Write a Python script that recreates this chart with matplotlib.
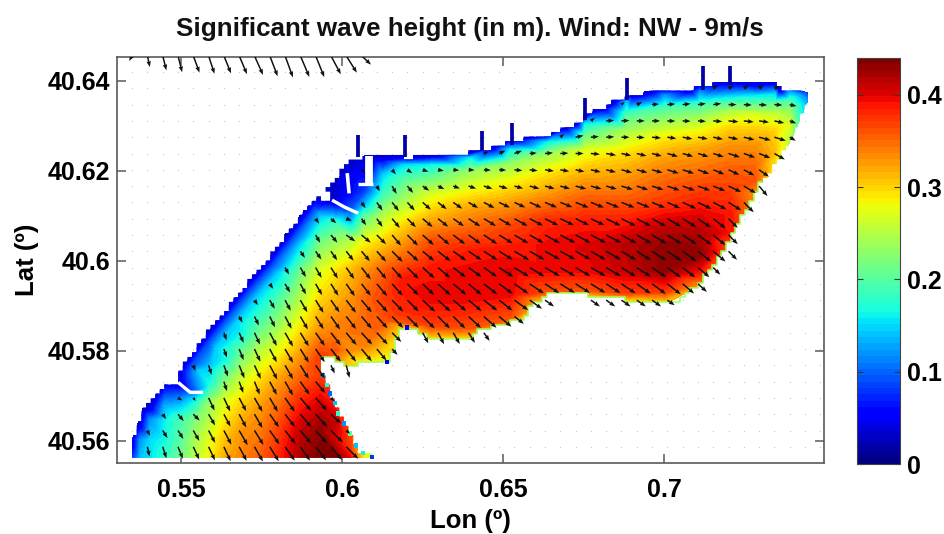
import numpy as np
import matplotlib
matplotlib.use('Agg')
import matplotlib.pyplot as plt
from matplotlib.patches import Polygon
from matplotlib.tri import Triangulation

plt.rcParams['font.family'] = ['Liberation Sans', 'DejaVu Sans']
plt.rcParams['font.weight'] = 'bold'

TITLE = 'Significant wave height (in m). Wind: NW - 9m/s'
x_ticks = [0.55, 0.6, 0.65, 0.7]
x_labels = ['0.55', '0.6', '0.65', '0.7']
y_ticks = [40.56, 40.58, 40.6, 40.62, 40.64]
y_labels = ['40.56', '40.58', '40.6', '40.62', '40.64']
cb_ticks = [0, 0.1, 0.2, 0.3, 0.4]
cb_labels = ['0', '0.1', '0.2', '0.3', '0.4']

# wet-area outline
coast_lon = [.5348,.5348,.5363,.5382,.5419,.5457,.5491,.5491,.5522,.5575,.5630,.5699,.5767,.5839,.5901,.5922,.5963,.5953,.5984,.6003,.6016,.6050,.6096,.6211,.6289,.6398,.6466,.6537,.6640,.6693,.6730,.6755,.6786,.6811,.6842,.6904,.6963,.7081,.7106,.7165,.7236,.7292,.7354,.7360,.7438,.7447,.7447,.7432,.7416,.7391,.7351,.7307,.7276,.7236,.7196,.7112,.7050,.6957,.6801,.6708,.6630,.6553,.6429,.6398,.6295,.6258,.6202,.6180,.6158,.6140,.6109,.6025,.5984,.5941,.5941,.5963,.5994,.6034,.6056,.6109,.6109]
coast_lat = [40.5559,40.5597,40.5630,40.5673,40.5701,40.5730,40.5730,40.5753,40.5784,40.5835,40.5886,40.5946,40.6002,40.6068,40.6128,40.6141,40.6135,40.6168,40.6188,40.6208,40.6224,40.6230,40.6232,40.6230,40.6235,40.6241,40.6252,40.6270,40.6277,40.6297,40.6306,40.6323,40.6335,40.6341,40.6353,40.6368,40.6379,40.6379,40.6388,40.6397,40.6397,40.6397,40.6397,40.6379,40.6379,40.6368,40.6353,40.6335,40.6301,40.6261,40.6217,40.6179,40.6135,40.6090,40.6030,40.5950,40.5913,40.5908,40.5921,40.5932,40.5924,40.5868,40.5846,40.5828,40.5826,40.5835,40.5852,40.5850,40.5801,40.5775,40.5779,40.5768,40.5779,40.5790,40.5750,40.5706,40.5653,40.5602,40.5573,40.5564,40.5559]
north_shore_end = 44      # outline points before this index are the north shore
south_fringe_start = 51   # outline points from here to fringe_end are the south-east shore
south_fringe_end = 74
shore_hs = .03
fringe_hs = .24
cell_dlon = .00143        # model cell size
cell_dlat = .00102

# bands parallel to the north-west shore
band1_lon = [.5537,.5590,.5646,.5714,.5783,.5854,.5916]
band1_lat = [40.5770,40.5821,40.5872,40.5932,40.5988,40.6054,40.6114]
band1_hs = [.09]*7
band2_lon = [.5556,.5609,.5665,.5733,.5801,.5873,.5935]
band2_lat = [40.5755,40.5806,40.5857,40.5917,40.5972,40.6039,40.6099]
band2_hs = [.145]*7

# wave height read along north-south sections
sec_lon = [.5348,.5373,.5404,.5450,.5497,.5543,.5590,.5637,.5693,.5745,.5807,.5870,.5932,.5978,.6025,.6071,.6109,.6130,.6192,.6273,.6398,.6522,.6640,.6755,.6885,.7003,.7112,.7205,.7283,.7345,.7391,.7422,.7447]
sec_lat = [
 [40.5559,40.5602],
 [40.5559,40.5602,40.5635],
 [40.5559,40.5602,40.5646,40.5673],
 [40.5559,40.5602,40.5646,40.5679,40.5724],
 [40.5559,40.5602,40.5646,40.5679,40.5701],
 [40.5559,40.5602,40.5646,40.5690,40.5713],
 [40.5559,40.5602,40.5646,40.5690,40.5724,40.5768],
 [40.5559,40.5602,40.5646,40.5690,40.5735,40.5779],
 [40.5559,40.5624,40.5690,40.5746,40.5801,40.5839],
 [40.5559,40.5624,40.5690,40.5746,40.5801,40.5857],
 [40.5559,40.5624,40.5690,40.5746,40.5801,40.5868,40.5913],
 [40.5559,40.5624,40.5690,40.5746,40.5801,40.5868,40.5913,40.5979],
 [40.5559,40.5624,40.5690,40.5746,40.5790,40.5846,40.5913,40.5979,40.6046],
 [40.5559,40.5646,40.5679,40.5801,40.5846,40.5913,40.5979,40.6046,40.6086],
 [40.5559,40.5590,40.5779,40.5801,40.5846,40.5913,40.5979,40.6046,40.6090,40.6108],
 [40.5559,40.5775,40.5812,40.5868,40.5913,40.5979,40.6046,40.6101,40.6124,40.6157],
 [40.5559,40.5775],
 [40.5800,40.5868,40.5913,40.5979,40.6046,40.6101,40.6146,40.6190,40.6224],
 [40.5852,40.5863,40.5890,40.5957,40.6024,40.6079,40.6135,40.6179,40.6213,40.6230],
 [40.5828,40.5857,40.5913,40.5979,40.6046,40.6101,40.6146,40.6184,40.6213,40.6230],
 [40.5828,40.5850,40.5913,40.5979,40.6024,40.6075,40.6119,40.6157,40.6201,40.6228,40.6239],
 [40.5852,40.5872,40.5924,40.5979,40.6035,40.6079,40.6135,40.6179,40.6217,40.6246,40.6266],
 [40.5913,40.5930,40.5979,40.6035,40.6090,40.6146,40.6197,40.6235,40.6264,40.6277],
 [40.5921,40.5935,40.5979,40.6035,40.6090,40.6146,40.6201,40.6246,40.6279,40.6304,40.6324],
 [40.5913,40.5928,40.5979,40.6035,40.6090,40.6146,40.6201,40.6246,40.6290,40.6328,40.6353,40.6364],
 [40.5908,40.5930,40.5979,40.6035,40.6079,40.6135,40.6190,40.6235,40.6272,40.6308,40.6342,40.6368,40.6379],
 [40.5946,40.5968,40.6013,40.6057,40.6101,40.6157,40.6213,40.6250,40.6290,40.6324,40.6351,40.6375,40.6388],
 [40.6030,40.6064,40.6101,40.6157,40.6213,40.6257,40.6295,40.6330,40.6357,40.6379,40.6395],
 [40.6146,40.6179,40.6213,40.6257,40.6295,40.6324,40.6346,40.6366,40.6386,40.6395],
 [40.6213,40.6246,40.6290,40.6324,40.6351,40.6373,40.6390],
 [40.6264,40.6301,40.6335,40.6357,40.6375],
 [40.6313,40.6346,40.6368,40.6377],
 [40.6357,40.6373],
]
sec_hs = [
 [.08,.04],
 [.14,.12,.04],
 [.155,.15,.12,.04],
 [.18,.165,.16,.13,.05],
 [.21,.20,.19,.14,.10],
 [.25,.24,.22,.16,.10],
 [.29,.275,.25,.23,.17,.14],
 [.32,.31,.29,.27,.22,.165],
 [.34,.33,.30,.26,.21,.165],
 [.355,.34,.32,.29,.25,.20],
 [.385,.37,.345,.32,.28,.23,.20],
 [.42,.41,.38,.35,.32,.28,.25,.21],
 [.44,.43,.40,.37,.37,.33,.30,.27,.21],
 [.44,.41,.39,.36,.34,.315,.29,.23,.18],
 [.40,.37,.30,.33,.345,.33,.31,.245,.13,.10],
 [.28,.28,.34,.35,.35,.33,.28,.20,.14,.08],
 [.22,.28],
 [.30,.36,.37,.355,.30,.25,.19,.15,.05],
 [.30,.36,.38,.39,.34,.30,.24,.20,.15,.04],
 [.30,.37,.395,.39,.36,.31,.27,.21,.16,.05],
 [.30,.36,.395,.395,.385,.35,.32,.28,.23,.16,.05],
 [.30,.36,.395,.40,.385,.365,.32,.28,.23,.16,.05],
 [.30,.36,.395,.395,.38,.33,.29,.24,.16,.05],
 [.30,.36,.395,.40,.385,.35,.31,.27,.21,.16,.05],
 [.30,.37,.41,.415,.385,.35,.32,.29,.24,.19,.14,.05],
 [.30,.37,.43,.43,.41,.37,.345,.32,.29,.24,.19,.12,.05],
 [.33,.38,.43,.42,.40,.37,.34,.32,.28,.23,.18,.12,.05],
 [.36,.39,.39,.37,.35,.33,.30,.25,.18,.10,.05],
 [.33,.36,.35,.33,.30,.27,.21,.16,.06,.05],
 [.29,.31,.30,.26,.20,.14,.06],
 [.25,.27,.23,.19,.13],
 [.18,.17,.13,.08],
 [.12,.08],
]

# jetties: lon, south lat, north lat
jetty_lon = [.6050,.6196,.6435,.6528,.6755,.6885,.7121,.7205]
jetty_south = [40.6230,40.6230,40.6246,40.6257,40.6313,40.6357,40.6379,40.6390]
jetty_north = [40.6279,40.6279,40.6288,40.6306,40.6361,40.6406,40.6432,40.6432]
jetty_hs = .02

# dry breakwater strips
gap1_lon, gap1_lat = [.5969,.6009,.6050], [40.6135,40.6119,40.6106]
gap2_lon, gap2_lat = [.6016,.6022], [40.6195,40.6150]
gap3_lon, gap3_lat = [.6084,.6084], [40.6232,40.6173]
gap4_lon, gap4_lat = [.6050,.6096], [40.6170,40.6170]
gap5_lon, gap5_lat = [.5491,.5528,.5568], [40.5730,40.5708,40.5708]

# isolated wet cells on the south-east spit
cell_lon = [.5941,.5953,.5963,.5978,.5988,.6006,.6025,.6043,.6065,.6093,.6140,.6202]
cell_lat = [40.5746,40.5724,40.5706,40.5684,40.5661,40.5639,40.5617,40.5590,40.5573,40.5564,40.5775,40.5852]
cell_hs = [.12,.17,.10,.14,.18,.12,.20,.14,.16,.08,.05,.06]

# grid of the vector field
grid_lon = [.5348 + .00475*i for i in range(46)]
grid_lat = [40.5587 + .00362*k for k in range(25)]

# rows of arrows: first column, degrees below east, length
arrow_first = {0:1,1:1,2:2,3:3,4:6,5:4,6:6,7:6,8:7,9:8,10:9,11:10,12:11,13:12,14:12,15:15,16:16,17:15,18:23,19:28,20:30,21:32,22:38,24:0}
arrow_deg = {
 0:[78,72,68,65,65,65,62,60,58,55,55,52,50,45],
 1:[65,58,58,60,62,62,60,58,55,52,50,48,45,40],
 2:[55,50,45,60,62,62,60,55,52,50,47,42],
 3:[30,50,65,65,62,60,60,55,50,48,45],
 4:[72,70,68,62,60,55,50],
 5:[70,72,70,68,65,62,60,58,55,65,75],
 6:[70,68,65,62,60,58,55,52,52,50,50,47],
 7:[70,66,65,62,60,58,55,52,50,48,47,45,0,62,62,60,58,55],
 8:[62,64,64,62,60,58,55,52,50,48,46,45,45,45,45,43,42,40,38],
 9:[55,60,62,60,58,55,52,50,48,46,45,43,42,40,40,38,38,36,35,35,0,0,35,35,35,35,35,35],
 10:[55,60,62,60,58,55,52,50,48,46,44,42,40,40,38,36,35,34,33,32,32,32,33,34,35,36,38,40,42],
 11:[60,60,60,58,55,52,50,48,45,42,40,38,36,35,33,32,31,30,30,30,30,31,32,33,34,36,38,40,45],
 12:[55,55,55,52,50,48,45,42,40,38,36,34,33,32,31,30,29,29,29,30,30,31,32,33,34,36,38,40,45],
 13:[60,50,35,40,45,50,45,42,40,38,36,34,32,31,30,29,28,28,28,28,29,30,31,32,34,36,40,45],
 14:[55,40,20,55,55,50,45,40,38,35,33,31,30,29,28,27,26,26,26,26,27,28,29,30,32,34,38,45],
 15:[55,55,52,48,42,38,35,30,28,26,25,24,23,22,22,22,22,22,22,23,24,25,26,28,32,45],
 16:[60,60,50,35,25,20,18,17,16,15,15,15,15,15,15,16,17,18,18,19,20,20,22,25,30,50],
 17:[40,0,50,35,18,10,5,3,3,3,5,7,8,10,12,13,14,15,15,16,17,18,20,22,25,28,35],
 18:[-25,-25,-20,-5,-5,-3,0,5,10,12,14,15,16,16,17,18,18,20,22,30],
 19:[-40,-12,-5,-3,0,3,5,8,10,10,12,12,14,15,17,30],
 20:[-40,-3,-3,0,0,1,2,3,4,5,6,8,12,20],
 21:[-40,-25,-5,-5,-7,-8,-8,0,3,3,3,12],
 22:[-40,-30,-35,-40,-20],
 24:[120,78,76,76,70,72,68,67,66,69,70,67,68,62,58,43],
}
arrow_len = {
 0:[10,12,13,14,15,16,16,17,17,17,17,17,17,17],
 1:[6,9,10,12,14,16,17,17,17,17,17,17,17,5],
 2:[6,9,9,13,14,15,16,16,16,17,17,14],
 3:[5,4,14,15,15,16,16,17,17,17,5],
 4:[10,12,14,15,16,16,15],
 5:[6,10,12,14,15,16,16,16,16,9,13],
 6:[9,12,14,15,16,16,16,16,16,16,15,8],
 7:[8,11,13,15,16,16,16,16,16,16,16,13,0,12,13,13,12,10],
 8:[7,10,12,14,15,15,16,16,16,16,16,16,17,17,17,17,17,16,12],
 9:[6,10,12,14,15,15,16,16,16,16,16,17,17,17,17,17,17,17,15,11,0,0,11,11,11,11,11,9],
 10:[6,10,12,13,14,15,15,16,16,16,16,17,17,17,17,17,17,17,17,17,17,17,17,17,17,17,17,15,12],
 11:[8,11,12,13,14,15,15,15,16,16,16,16,16,16,17,17,17,17,17,17,17,17,17,17,17,17,16,15,10],
 12:[8,10,11,12,13,14,15,15,15,16,16,16,16,16,17,17,17,17,17,17,17,17,17,17,17,17,17,16,12],
 13:[9,10,11,12,13,14,15,15,15,15,15,16,16,16,16,17,17,17,17,17,17,17,17,17,17,17,16,13],
 14:[6,7,6,8,10,12,12,13,13,13,14,14,14,15,15,15,15,15,15,16,16,16,16,16,16,16,16,13],
 15:[7,10,11,11,11,11,11,11,12,12,12,13,13,13,14,14,14,14,14,14,14,15,15,15,15,14],
 16:[6,9,9,8,7,7,8,9,9,9,10,10,10,11,11,11,12,12,12,13,13,13,13,14,14,13],
 17:[5,0,6,6,6,6,6,6,7,7,8,8,9,9,9,10,10,11,11,11,12,12,12,12,12,12,12],
 18:[5,7,8,7,8,8,8,9,10,10,10,10,11,11,11,11,12,12,12,12],
 19:[5,8,8,8,8,8,9,9,10,10,10,10,11,12,12,7],
 20:[5,8,8,8,8,8,8,8,9,10,10,10,10,7],
 21:[4,6,7,8,8,8,8,8,8,8,8,7],
 22:[6,6,6,6,6],
 24:[6,11.6,15,17,18,19,19,20,21,22,23,23,23,21,20,13],
}


def staircase(lon, lat):
    """Follow a polyline along the edges of the model cells."""
    out_x, out_y = [], []
    for x0, y0, x1, y1 in zip(lon[:-1], lat[:-1], lon[1:], lat[1:]):
        steps = max(2, int(max(abs(x1-x0)/cell_dlon, abs(y1-y0)/cell_dlat)*3))
        for t in np.linspace(0, 1, steps):
            sx = round((x0+(x1-x0)*t)/cell_dlon)*cell_dlon
            sy = round((y0+(y1-y0)*t)/cell_dlat)*cell_dlat
            if out_x and (sx != out_x[-1] or sy != out_y[-1]):
                out_x.append(sx)
                out_y.append(out_y[-1])
            out_x.append(sx)
            out_y.append(sy)
    return np.array(out_x), np.array(out_y)


W, H = 944, 534
fig = plt.figure(figsize=(W/100, H/100), dpi=100, facecolor='white')
ax = fig.add_axes([117/W, 1-463/H, (824-117)/W, (463-57)/H])
cax = fig.add_axes([857/W, 1-464/H, (900-857)/W, (464-58)/H])
cmap = plt.get_cmap('jet', 64)
vmin, vmax = 0, 0.44
spine_col = '#5a5a5a'

# grid dots
gx, gy = np.meshgrid(grid_lon, grid_lat)
ax.scatter(gx.ravel(), gy.ravel(), s=0.9, c='#cccccc', linewidths=0, zorder=1)

# field
lons = np.concatenate([[lo]*len(la) for lo, la in zip(sec_lon, sec_lat)]
                      + [coast_lon[1:north_shore_end], band1_lon, band2_lon])
lats = np.concatenate(sec_lat + [coast_lat[1:north_shore_end], band1_lat, band2_lat])
vals = np.concatenate(sec_hs + [[shore_hs]*(north_shore_end-1), band1_hs, band2_hs])
_, keep = np.unique(np.round(np.column_stack([lons, lats]), 5), axis=0, return_index=True)
keep = np.sort(keep)
lons, lats, vals = lons[keep], lats[keep], vals[keep]
tri = Triangulation(lons, lats, triangles=Triangulation(lons, (lats-40.6)*1.38).triangles)
levels = np.linspace(vmin, vmax, 65)
field = ax.tricontourf(tri, vals, levels=levels, cmap=cmap, vmin=vmin, vmax=vmax,
                       antialiased=False, zorder=2)
sx, sy = staircase(coast_lon + coast_lon[:1], coast_lat + coast_lat[:1])
outline = Polygon(np.column_stack([sx, sy]), closed=True, transform=ax.transData)
field.set_clip_path(outline)

# thin shallow fringe on the south-east shore
fx, fy = staircase(coast_lon[south_fringe_start:south_fringe_end], coast_lat[south_fringe_start:south_fringe_end])
ax.plot(fx, fy, color=cmap(fringe_hs/vmax), lw=1.1, zorder=3)

# jetties
ax.vlines(jetty_lon, jetty_south, jetty_north, color=cmap(jetty_hs/vmax), lw=2.7, zorder=3)

# white gaps
for glon, glat, lw in [(gap1_lon, gap1_lat, 2.4), (gap2_lon, gap2_lat, 2.6),
                       (gap3_lon, gap3_lat, 5.6), (gap4_lon, gap4_lat, 2.4),
                       (gap5_lon, gap5_lat, 2.4)]:
    ax.plot(glon, glat, color='white', lw=lw, solid_capstyle='butt', zorder=3)

# isolated cells
ax.scatter(cell_lon, cell_lat, c=cell_hs, cmap=cmap, vmin=vmin, vmax=vmax,
           marker='s', s=11, linewidths=0, zorder=3)

# vectors
ax_lon, ax_lat, u, v = [], [], [], []
for k, first in arrow_first.items():
    for j, (d, l) in enumerate(zip(arrow_deg[k], arrow_len[k])):
        if l == 0:
            continue
        ax_lon.append(grid_lon[first+j])
        ax_lat.append(grid_lat[k])
        u.append(l*np.cos(np.radians(d)))
        v.append(-l*np.sin(np.radians(d)))
ax.quiver(ax_lon, ax_lat, u, v, angles='uv', scale_units='dots', scale=1, pivot='tail',
          color='#111111', width=1.5, units='dots', headwidth=3.0, headlength=4.0,
          headaxislength=3.6, minlength=0, zorder=4)

ax.set_xlim(0.5301, 0.7497)
ax.set_ylim(40.5551, 40.6453)
ax.set_xticks(x_ticks, x_labels)
ax.set_yticks(y_ticks, y_labels)
ax.tick_params(axis='both', direction='in', length=6.5, width=1.1, color=spine_col,
               top=True, right=True, labelsize=18, pad=5)
ax.tick_params(axis='x', pad=11)
ax.set_xlabel('Lon (º)', fontsize=18.5, fontweight='bold', labelpad=5)
ax.set_ylabel('Lat (º)', fontsize=18.5, fontweight='bold', labelpad=6)
for s in ax.spines.values():
    s.set_color(spine_col)
    s.set_linewidth(1.2)

sm = plt.cm.ScalarMappable(norm=plt.Normalize(vmin, vmax), cmap=cmap)
cb = fig.colorbar(sm, cax=cax)
cb.set_ticks(cb_ticks, labels=cb_labels)
cax.tick_params(axis='y', direction='in', length=4, width=0.8, color='#333333',
                left=True, right=True, labelsize=18, pad=5)
cb.outline.set_edgecolor('#444444')
cb.outline.set_linewidth(0.8)

fig.text(470/W, 1-29/H, TITLE, ha='center', va='center', fontsize=18.7, fontweight='bold', color='#111111')
fig.savefig('out.png', dpi=100)
